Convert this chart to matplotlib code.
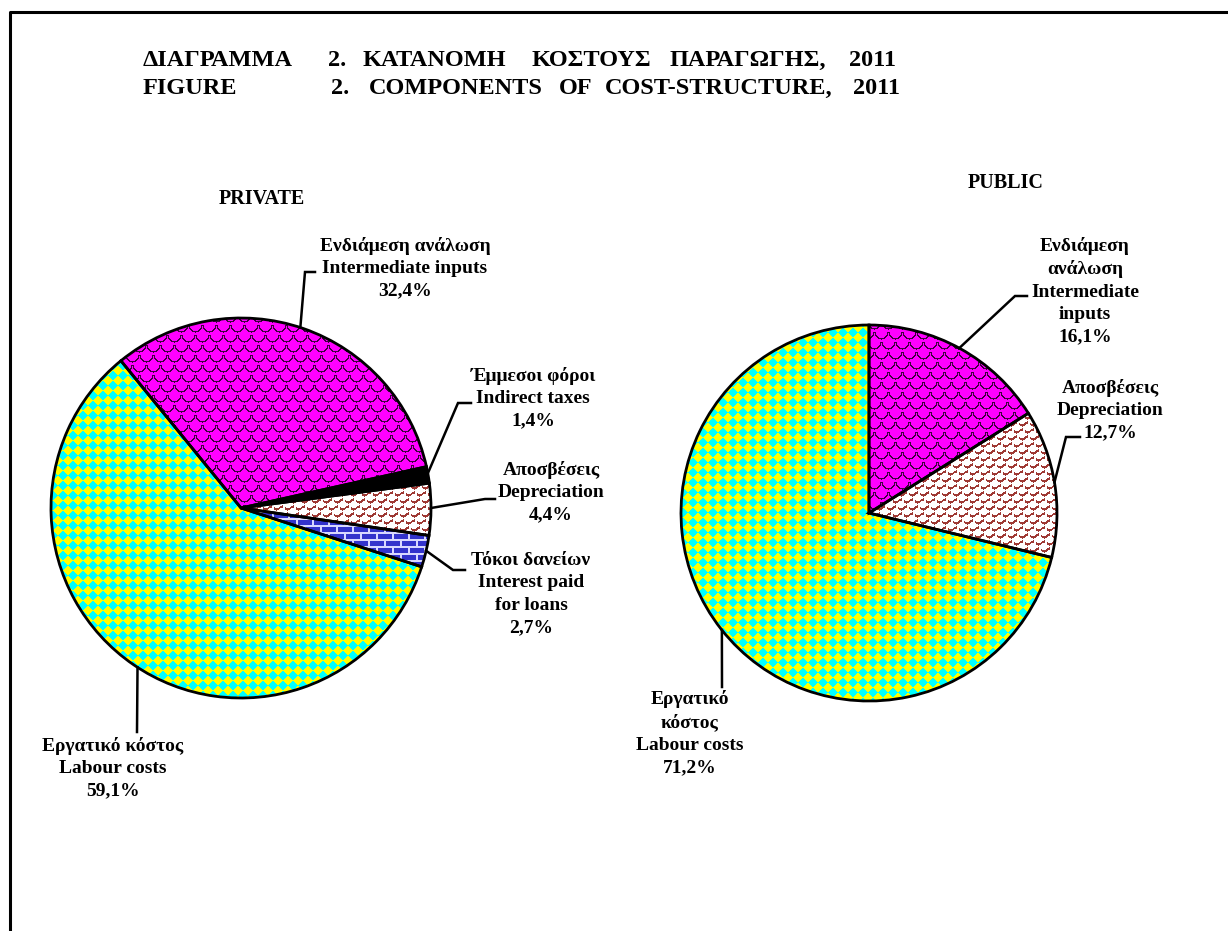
import numpy as np
import matplotlib
matplotlib.use("Agg")
import matplotlib.pyplot as plt

W, H = 1228, 931

# --- data ---
private_labels = ["Ενδιάμεση ανάλωση\nIntermediate inputs", "Έμμεσοι φόροι\nIndirect taxes",
                  "Αποσβέσεις\nDepreciation", "Τόκοι δανείων\nInterest paid\nfor loans",
                  "Εργατικό κόστος\nLabour costs"]
private_values = [32.4, 1.4, 4.4, 2.7, 59.1]
public_labels = ["Ενδιάμεση\nανάλωση\nIntermediate\ninputs", "Αποσβέσεις\nDepreciation",
                 "Εργατικό\nκόστος\nLabour costs"]
public_values = [16.1, 12.7, 71.2]

title_gr = ["ΔΙΑΓΡΑΜΜΑ", "2.", "ΚΑΤΑΝΟΜΗ", "ΚΟΣΤΟΥΣ", "ΠΑΡΑΓΩΓΗΣ,", "2011"]
title_en = ["FIGURE", "2.", "COMPONENTS", "OF", "COST-STRUCTURE,", "2011"]

MAGENTA = (1.0, 0.0, 1.0)
YELLOW = (1.0, 1.0, 0.0)
CYAN = (0.0, 1.0, 1.0)
BLUE = (0.2, 0.2, 0.8)
BROWN = (0.62, 0.22, 0.2)
WHITE = (1.0, 1.0, 1.0)
BLACK = (0.0, 0.0, 0.0)

FONT = dict(family="Liberation Serif", fontweight="bold")


def tex_checker(n, s=10):
    yy, xx = np.mgrid[0:n, 0:n]
    a = ((xx + yy) // s + (xx - yy) // s) % 2
    img = np.empty((n, n, 3))
    img[a == 0] = CYAN
    img[a == 1] = YELLOW
    return img


def tex_scales(n, w=14, h=10, R=7):
    yy, xx = np.mgrid[0:n, 0:n].astype(float)
    img = np.empty((n, n, 3))
    img[:] = MAGENTA
    for row in range(n // h + 3, -3, -1):
        cy = row * h
        off = (row % 2) * w / 2
        dx = ((xx - off + w / 2) % w) - w / 2
        dy = yy - cy
        d = np.sqrt(dx ** 2 + dy ** 2)
        region = (np.abs(dx) <= R) & (dy >= -h) & ((dy < 0) | (d <= R))
        img[region] = MAGENTA
        arc = region & (dy >= 0) & (d >= R - 1.6)
        img[arc] = (0.25, 0.0, 0.25)
    return img


def tex_waves(n, p=7, lam=11):
    yy, xx = np.mgrid[0:n, 0:n].astype(float)
    img = np.empty((n, n, 3))
    img[:] = WHITE
    row = yy // p
    ph = (row % 2) * lam / 2
    y0 = row * p + p / 2 + 1.5 * np.sin(2 * np.pi * (xx + ph) / lam)
    mark = (np.abs(yy - y0) < 1.1) & (((xx + ph) % lam) < lam - 2)
    img[mark] = BROWN
    return img


def tex_bricks(n, bh=7, bw=16):
    yy, xx = np.mgrid[0:n, 0:n]
    img = np.empty((n, n, 3))
    img[:] = BLUE
    row = yy // bh
    mortar = (yy % bh < 2) | (((xx + (row % 2) * bw // 2) % bw) < 2)
    img[mortar] = (0.85, 0.85, 1.0)
    return img


def tex_solid(n, c):
    img = np.empty((n, n, 3))
    img[:] = c
    return img


def draw_pie(ax, values, textures, center, radius, startangle):
    n = int(2 * radius + 6)
    wedges, _ = ax.pie(values, colors=["white"] * len(values), center=center, radius=radius,
                       startangle=startangle, counterclock=False,
                       wedgeprops=dict(linewidth=0, zorder=1))
    ext = (center[0] - n / 2, center[0] + n / 2, center[1] - n / 2, center[1] + n / 2)
    for w, tex in zip(wedges, textures):
        im = ax.imshow(tex(n), extent=ext, interpolation="nearest", zorder=2)
        im.set_clip_path(w)
    ax.pie(values, colors=["none"] * len(values), center=center, radius=radius,
           startangle=startangle, counterclock=False,
           wedgeprops=dict(linewidth=2.0, edgecolor="black", zorder=3))


def leader(ax, center, radius, angle, pts):
    a = np.deg2rad(angle)
    xs = [center[0] + radius * np.cos(a)] + [p[0] for p in pts]
    ys = [center[1] + radius * np.sin(a)] + [H - p[1] for p in pts]
    ax.plot(xs, ys, color="black", linewidth=1.8, zorder=4, solid_joinstyle="miter")


def label(ax, x, y, s, size=14):
    ax.text(x, H - y, s, ha="center", va="center", multialignment="center",
            fontsize=size, linespacing=1.4, **FONT)


fig = plt.figure(figsize=(W / 100, H / 100), dpi=100)
ax = fig.add_axes([0, 0, 1, 1])

checker = tex_checker
scales = tex_scales
waves = tex_waves
bricks = tex_bricks
black = lambda n: tex_solid(n, BLACK)

# private pie
pc, pr = (241, H - 508), 190
draw_pie(ax, private_values, [scales, black, waves, bricks, checker], pc, pr, 129.2)
# public pie
qc, qr = (869, H - 513), 188
draw_pie(ax, public_values, [scales, waves, checker], qc, qr, 90)

# leader lines
leader(ax, pc, pr, 71.8, [(305, 272), (315, 272)])
leader(ax, pc, pr, 10.5, [(458, 403), (471, 403)])
leader(ax, pc, pr, 0.0, [(485, 499), (495, 499)])
leader(ax, pc, pr, -13.0, [(453, 570), (465, 570)])
leader(ax, pc, pr, -123.0, [(137, 732)])
leader(ax, qc, qr, 61.3, [(1015, 296), (1027, 296)])
leader(ax, qc, qr, 9.4, [(1066, 437), (1080, 437)])
leader(ax, qc, qr, -141.5, [(722, 687)])

fmt = lambda v: f"{v:.1f}%".replace(".", ",")
priv_pos = [(405, 268), (533, 398), (551, 492), (531, 594), (113, 768)]
for (x, y), lab, v in zip(priv_pos, private_labels, private_values):
    label(ax, x, y, f"{lab}\n{fmt(v)}")
pub_pos = [(1085, 291), (1110, 410), (690, 733)]
for (x, y), lab, v in zip(pub_pos, public_labels, public_values):
    label(ax, x, y, f"{lab}\n{fmt(v)}")

label(ax, 262, 199, "PRIVATE", size=14.5)
label(ax, 1006, 183, "PUBLIC", size=14.5)

# title, word by word (first word left-aligned, rest centred)
gr_x = [143, 337, 434, 591, 748, 872]
en_x = [143, 340, 456, 576, 719, 876]
for words, xs, y in [(title_gr, gr_x, 60), (title_en, en_x, 88)]:
    for i, (s, x) in enumerate(zip(words, xs)):
        ax.text(x, H - y, s, ha="left" if i == 0 else "center", va="center",
                fontsize=17.5, **FONT)

# frame
ax.plot([10, 10, W + 5], [-5, H - 12, H - 12], color="black", linewidth=2.2, clip_on=False)

ax.set_xlim(0, W)
ax.set_ylim(0, H)
ax.set_aspect("equal")
ax.axis("off")

fig.savefig("out.png", dpi=100, facecolor="white")
